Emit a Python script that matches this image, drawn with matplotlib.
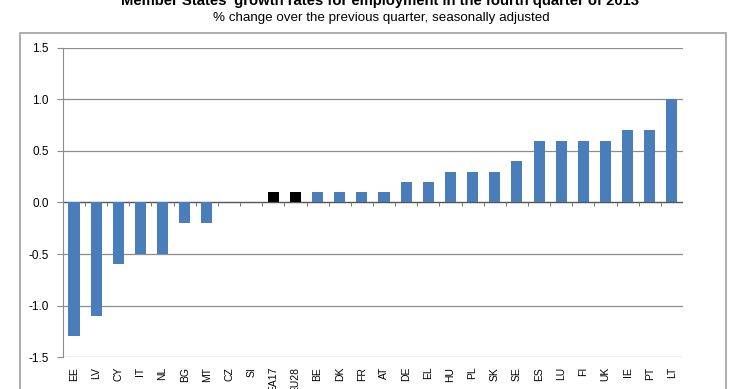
import numpy as np
from matplotlib import pyplot as plt
import matplotlib.patches as patches

# employment growth, Q4 2013 vs Q3 2013 (%)
countries = ['EE', 'LV', 'CY', 'IT', 'NL', 'BG', 'MT', 'CZ', 'SI', 'EA17', 'EU28',
             'BE', 'DK', 'FR', 'AT', 'DE', 'EL', 'HU', 'PL', 'SK', 'SE', 'ES',
             'LU', 'FI', 'UK', 'IE', 'PT', 'LT']
growth = [-1.3, -1.1, -0.6, -0.5, -0.5, -0.2, -0.2, 0.0, 0.0, 0.1, 0.1,
          0.1, 0.1, 0.1, 0.1, 0.2, 0.2, 0.3, 0.3, 0.3, 0.4, 0.6,
          0.6, 0.6, 0.6, 0.7, 0.7, 1.0]
aggregates = ['EA17', 'EU28']

plt.rcParams['font.family'] = ['Liberation Sans', 'DejaVu Sans']

fig = plt.figure(figsize=(7.4, 3.89), dpi=100)
ax = fig.add_axes([0.085, 0.082, 0.838, 0.795])

x = np.arange(len(countries))
colors = ['black' if c in aggregates else '#4a7ebb' for c in countries]
ax.bar(x, growth, width=0.5, color=colors, zorder=3)

ax.set_xlim(-0.5, len(countries) - 0.5)
ax.set_ylim(-1.5, 1.5)
yt = np.arange(-1.5, 1.51, 0.5)
ax.set_yticks(yt)
ax.set_yticklabels(['%.1f' % v for v in yt], fontsize=8.5)
ax.yaxis.grid(True, color='#8c8c8c', linewidth=0.9, zorder=0)

ax.set_xticks(x)
ax.set_xticklabels(countries, rotation=90, fontsize=7.5, va='top')
ax.tick_params(axis='x', length=0, pad=7)
ax.tick_params(axis='y', length=4, color='#8c8c8c', pad=6)

for s in ['top', 'right', 'bottom']:
    ax.spines[s].set_visible(False)
ax.spines['left'].set_color('#8c8c8c')

# category axis on the zero line, with small ticks between categories
ax.axhline(0, color='#555555', linewidth=0.9, zorder=2)
ax.vlines(x[:-1] + 0.5, -0.03, 0, color='#777777', linewidth=0.7, zorder=2)

# chart frame
fig.patches.append(patches.Rectangle((20 / 740, -0.1), 706 / 740, 1.1 - 33 / 389,
                                     transform=fig.transFigure, fill=False,
                                     edgecolor='#a0a0a0', linewidth=1.2))

fig.text(0.514, 1 - 5 / 389, "Member States' growth rates for employment in the fourth quarter of 2013",
         ha='center', va='baseline', fontsize=10.7, fontweight='bold')
fig.text(0.515, 1 - 20.5 / 389, '% change over the previous quarter, seasonally adjusted',
         ha='center', va='baseline', fontsize=9.6)

fig.savefig('out.png', dpi=100)
